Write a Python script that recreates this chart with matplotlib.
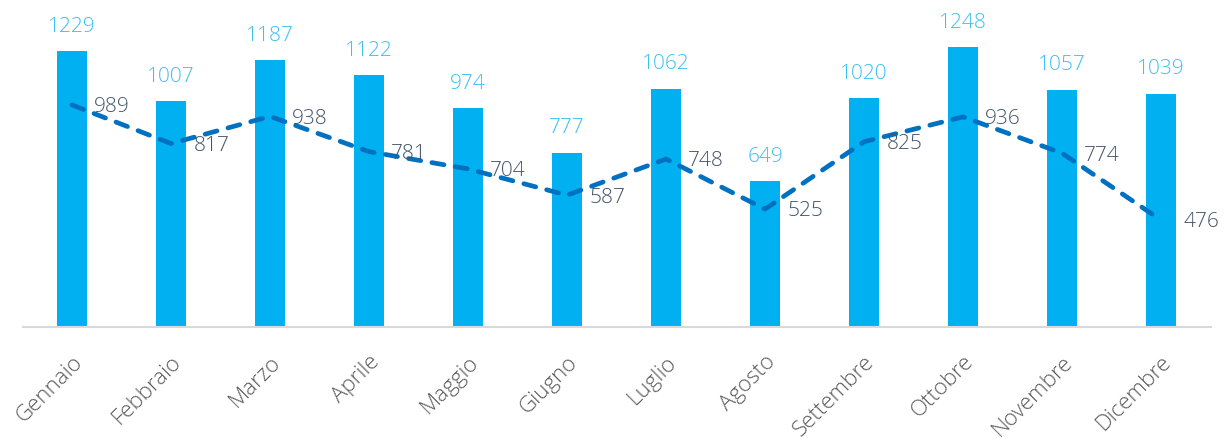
import numpy as np
from matplotlib import pyplot as plt

plt.rcParams['font.family'] = ['Open Sans', 'DejaVu Sans']

months = ['Gennaio', 'Febbraio', 'Marzo', 'Aprile', 'Maggio', 'Giugno',
          'Luglio', 'Agosto', 'Settembre', 'Ottobre', 'Novembre', 'Dicembre']
bar_values = [1229, 1007, 1187, 1122, 974, 777, 1062, 649, 1020, 1248, 1057, 1039]
line_values = [989, 817, 938, 781, 704, 587, 748, 525, 825, 936, 774, 476]

BAR_COLOR = '#00B0F0'
LINE_COLOR = '#0070C0'
LINE_LABEL_COLOR = '#44546A'
TICK_COLOR = '#595959'

fig = plt.figure(figsize=(12.25, 4.39), dpi=100)
ax = fig.add_axes((0.0184, 0.2529, 0.9698, 0.716))

x = np.arange(len(months))
bars = ax.bar(x, bar_values, width=0.31, color=BAR_COLOR, zorder=2)
ax.plot(x, line_values, color=LINE_COLOR, linewidth=3.4, linestyle=(0, (2.6, 2.4)),
        dash_capstyle='round', zorder=3)

for xi, v in zip(x, bar_values):
    ax.annotate(str(v), (xi, v), xytext=(0, 11), textcoords='offset points',
                ha='center', va='bottom', fontsize=15, fontweight='light',
                color='#3CC0F2')

for xi, v in zip(x, line_values):
    ax.annotate(str(v), (xi, v), xytext=(16, -1), textcoords='offset points',
                ha='left', va='center', fontsize=15, fontweight='light',
                color=LINE_LABEL_COLOR, zorder=4)

ax.set_xlim(-0.5, len(months) - 0.5)
ax.set_ylim(0, 1400)
ax.set_xticks(x)
ax.set_xticklabels(months, rotation=45, ha='right', rotation_mode='anchor',
                   fontsize=16, fontweight='light', color=TICK_COLOR)
ax.tick_params(axis='x', length=0, pad=17)
ax.set_yticks([])
for side in ['top', 'right', 'left']:
    ax.spines[side].set_visible(False)
ax.spines['bottom'].set_color('#D9D9D9')
ax.spines['bottom'].set_linewidth(1.5)

fig.savefig('out.png', dpi=100)
